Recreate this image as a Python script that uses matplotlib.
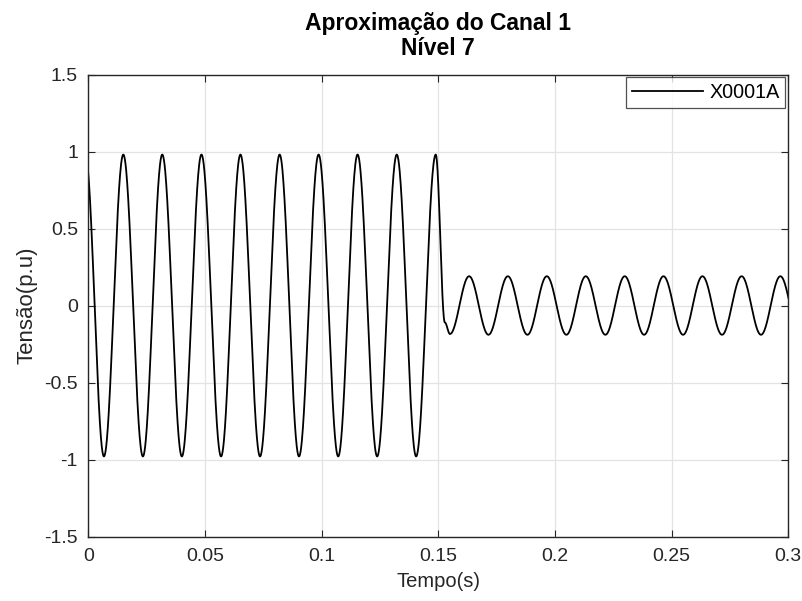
import numpy as np
import matplotlib.pyplot as plt

plt.rcParams['font.family'] = ['Liberation Sans', 'DejaVu Sans']

# extrema of the waveform (time in s, value in p.u.)
# first / last entries sit just outside the x range so the curve is clipped there
ext_t = [-0.0013,
         0.0067, 0.0150, 0.0234, 0.0317, 0.0401, 0.0485, 0.0569, 0.0652,
         0.0736, 0.0820, 0.0903, 0.0987, 0.1071, 0.1154, 0.1238, 0.1322,
         0.1405, 0.1489,
         0.1528, 0.1550,
         0.1632, 0.1715, 0.1798, 0.1882, 0.1965, 0.2049, 0.2132, 0.2216,
         0.2299, 0.2382, 0.2465, 0.2549, 0.2632, 0.2716, 0.2800, 0.2883,
         0.2966, 0.3049]
ext_v = [0.98,
         -0.98, 0.98, -0.98, 0.98, -0.98, 0.98, -0.98, 0.98,
         -0.98, 0.98, -0.98, 0.98, -0.98, 0.98, -0.98, 0.98,
         -0.98, 0.98,
         -0.11, -0.185,
         0.19, -0.19, 0.19, -0.19, 0.19, -0.19, 0.19, -0.19,
         0.19, -0.19, 0.19, -0.19, 0.19, -0.19, 0.19, -0.19,
         0.19, -0.19]

series_name = 'X0001A'
x_ticks = [0, 0.05, 0.1, 0.15, 0.2, 0.25, 0.3]
x_labels = ['0', '0.05', '0.1', '0.15', '0.2', '0.25', '0.3']
y_ticks = [-1.5, -1, -0.5, 0, 0.5, 1, 1.5]
y_labels = ['-1.5', '-1', '-0.5', '0', '0.5', '1', '1.5']


def smooth_between(ts, vs, n=60):
    # half-cosine shape between consecutive extrema
    tt, vv = [], []
    for i in range(len(ts) - 1):
        s = np.linspace(0, 1, n, endpoint=False)
        tt.append(ts[i] + (ts[i + 1] - ts[i]) * s)
        vv.append(vs[i] + (vs[i + 1] - vs[i]) * (1 - np.cos(np.pi * s)) / 2)
    tt.append([ts[-1]])
    vv.append([vs[-1]])
    return np.concatenate(tt), np.concatenate(vv)


t, v = smooth_between(ext_t, ext_v)

fig = plt.figure(figsize=(8.03, 6.01), dpi=100)
ax = fig.add_axes([88.3 / 803, 1 - 536.5 / 601, 700 / 803, 462 / 601])

ax.plot(t, v, color='black', lw=1.3, label=series_name)
ax.set_xlim(0, 0.3)
ax.set_ylim(-1.5, 1.5)
ax.set_xticks(x_ticks)
ax.set_xticklabels(x_labels)
ax.set_yticks(y_ticks)
ax.set_yticklabels(y_labels)
ax.grid(True, color='#e3e3e3', lw=0.9)
ax.set_axisbelow(True)
ax.tick_params(direction='in', length=5, colors='#262626', labelsize=14,
               top=True, right=True, labeltop=False, labelright=False)
ax.tick_params(axis='x', pad=8)
ax.tick_params(axis='y', pad=7.5)
for sp in ax.spines.values():
    sp.set_color('#262626')
    sp.set_linewidth(1.0)

ax.set_xlabel('Tempo(s)', fontsize=14.5, color='#262626')
ax.set_ylabel('Tensão(p.u)', fontsize=16, color='#262626')
ax.xaxis.set_label_coords(0.5, -0.076)
ax.yaxis.set_label_coords(-0.073, 0.5)
ax.set_title('Aproximação do Canal 1\nNível 7', fontsize=16.5, fontweight='bold',
             linespacing=1.1, pad=14)

leg = ax.legend(loc='upper right', fontsize=14.2, frameon=True, fancybox=False,
                handlelength=3.6, handletextpad=0.3, borderaxespad=0.15,
                borderpad=0.3)
leg.get_frame().set_edgecolor('#262626')
leg.get_frame().set_linewidth(0.9)

fig.savefig('out.png', dpi=100)
